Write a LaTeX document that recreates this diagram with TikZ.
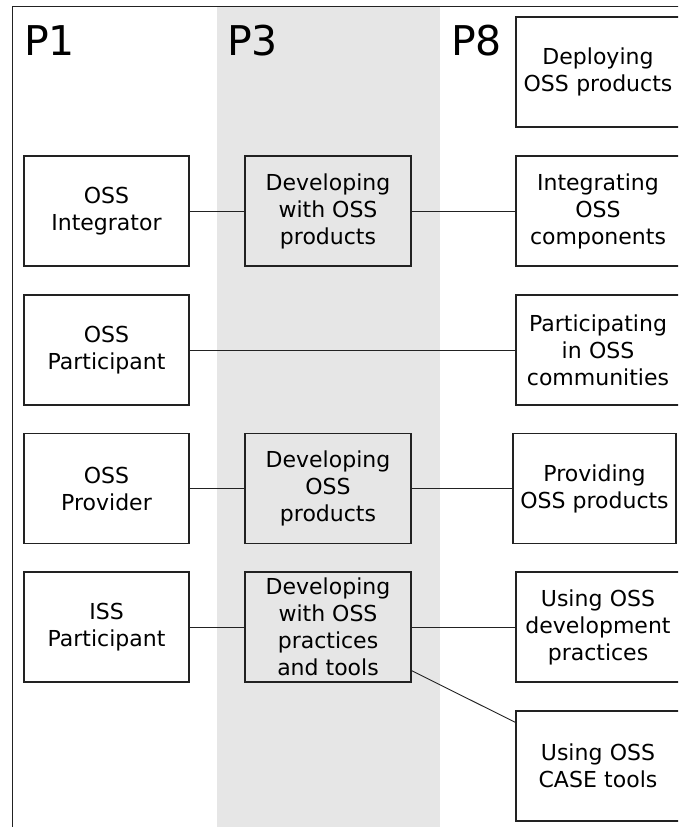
\documentclass[tikz,border=0pt]{standalone}
\usepackage{fontspec}
\setmainfont{DejaVu Sans}
\usetikzlibrary{calc}
\definecolor{band}{HTML}{E6E6E6}
\definecolor{ink}{HTML}{222222}
\begin{document}
\begin{tikzpicture}[x=1pt,y=-1pt,
  box/.style={draw=ink,line width=1.1pt,minimum width=165pt,minimum height=110pt,inner sep=0pt,
    align=center,font=\fontsize{22pt}{27pt}\selectfont},
  conn/.style={draw=ink,line width=0.9pt},
  plabel/.style={anchor=base west,inner sep=0pt,font=\fontsize{41pt}{48pt}\selectfont}]
\useasboundingbox (0,0) rectangle (678,827);
\clip (0,0) rectangle (678,827);
\fill[band] (217,6) rectangle (440,840);
\draw[ink,line width=1pt] (12,840) -- (12,6) -- (690,6);
\node[plabel] (p1) at (24,55) {P1};
\node[plabel] (p3) at (227,55) {P3};
\node[plabel] (p8) at (451,55) {P8};
% left column
\node[box] (integ) at (106.5,211) {OSS\\Integrator};
\node[box] (partic) at (106.5,350) {OSS\\Participant};
\node[box] (prov) at (106.5,488.5) {OSS\\Provider};
\node[box] (iss) at (106.5,627) {ISS\\Participant};
% middle column
\node[box,minimum width=166pt] (devwith) at (328,211) {Developing\\with OSS\\products};
\node[box,minimum width=166pt] (devoss) at (328,488.5) {Developing\\OSS\\products};
\node[box,minimum width=166pt] (devprac) at (328,627) {Developing\\with OSS\\practices\\and tools};
% right column
\node[box,minimum width=164pt,text width=160pt,xshift=-2pt] (deploy) at (600,72) {Deploying\\OSS products};
\node[box,minimum width=164pt,text width=160pt,xshift=-2pt] (integr) at (600,211) {Integrating\\OSS\\components};
\node[box,minimum width=164pt,text width=160pt,xshift=-2pt] (partin) at (600,350) {Participating\\in OSS\\communities};
\node[box,minimum width=163pt] (provid) at (594.5,488.5) {Providing\\OSS products};
\node[box,minimum width=164pt,text width=160pt,xshift=-2pt] (usedev) at (600,627) {Using OSS\\development\\practices};
\node[box,minimum width=164pt,text width=160pt,xshift=-2pt] (usecase) at (600,766) {Using OSS\\CASE tools};
% connectors
\draw[conn] (integ) -- (devwith);
\draw[conn] (devwith) -- (integr);
\draw[conn] (partic) -- (partin);
\draw[conn] (prov) -- (devoss);
\draw[conn] (devoss) -- (provid);
\draw[conn] (iss) -- (devprac);
\draw[conn] (devprac) -- (usedev);
\coordinate (dstart) at ($(devprac.south east)+(0,-12)$);
\coordinate (dend) at ($(usecase.north west)+(0,12)$);
\draw[conn] (dstart) -- (dend);
\end{tikzpicture}
\end{document}
